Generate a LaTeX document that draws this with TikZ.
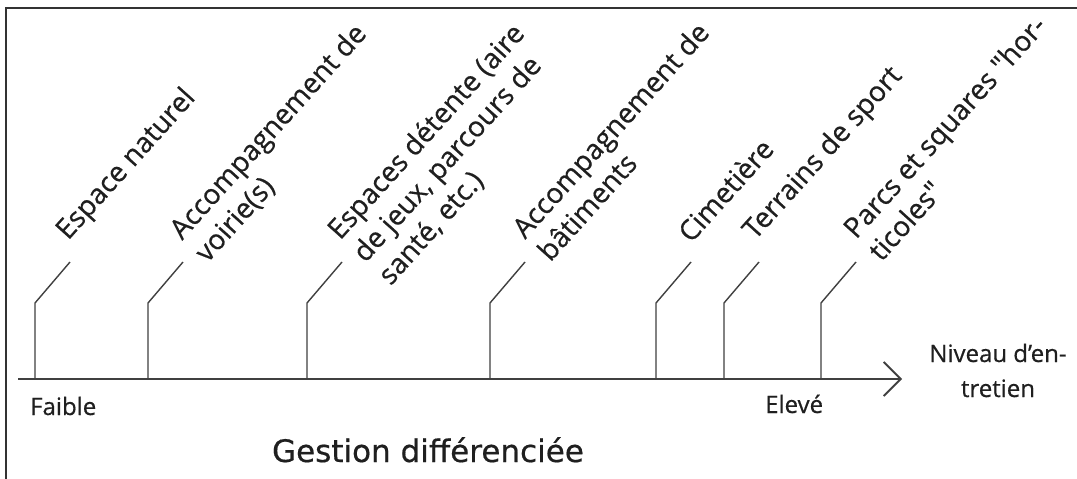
\documentclass[tikz,border=0pt]{standalone}
\usepackage{fontspec}
\setmainfont{Open Sans}[FakeBold=0.6]
\newfontfamily\labfont{Open Sans}[AutoFakeBold=0.5]
\newfontfamily\titlefont{DejaVu Sans}[AutoFakeBold=0.5]
\usetikzlibrary{arrows.meta,calc}
\begin{document}
\begin{tikzpicture}[x=1pt,y=-1pt,
  lab/.style={rotate=48,anchor=base west,align=left,inner sep=0pt,
    font=\labfont\bfseries\fontsize{28}{34}\selectfont,text=black!88},
  small/.style={inner sep=0pt,font=\labfont\bfseries\fontsize{24}{35}\selectfont,text=black!88},
  tickline/.style={draw=black!75,line width=1.4pt},
  axisline/.style={draw=black!75,line width=1.8pt},
  frameline/.style={draw=black!80,line width=2.6pt}]
\useasboundingbox (0,0) rectangle (1077,479);
\fill[white] (0,0) rectangle (1077,479);
\draw[frameline] (6,479) -- (6,8) -- (1077,8);
\coordinate (a0) at (18,379);
\coordinate (tip) at (902,379);
\draw[axisline,-{Straight Barb[length=17pt,width=34pt]}] (a0) -- (tip);
\foreach \x [count=\i] in {35,148,307,490,656,724,821} {
  \coordinate (t\i) at (\x,379);
  \coordinate (k\i) at (\x,303);
  \coordinate (e\i) at (\x+35,262);
  \draw[tickline] (t\i) -- (k\i) -- (e\i);
}
% one line down, perpendicular to the rotated text
\coordinate (dl) at (25.3,22.7);
\node[lab] (l1) at ($(e1)+(-2,-21)$) {Espace naturel};
\node[lab] (l2) at ($(e2)+(-1,-21)+(dl)$) {Accompagnement de\\voirie(s)};
\node[lab] (l3) at ($(e3)+(-2,-21)+2*(dl)$) {Espaces détente (aire\\de jeux, parcours de\\santé, etc.)};
\node[lab] (l4) at ($(e4)+(0,-22)+(dl)$) {Accompagnement de\\bâtiments};
\node[lab] (l5) at ($(e5)+(0,-18)$) {Cimetière};
\node[lab] (l6) at ($(e6)+(-4,-21)$) {Terrains de sport};
\node[lab] (l7) at ($(e7)+(0,-22)+(dl)$) {Parcs et squares "hor-\\ticoles"};
\node[small,anchor=base west] (faible) at (30,415) {Faible};
\node[small,anchor=base west] (eleve) at (765,413) {Elevé};
\node[small,anchor=base,align=center] (niveau) at (998,397) {Niveau d’en-\\tretien};
\node[inner sep=0pt,anchor=base,text=black!88,font=\titlefont\bfseries\fontsize{31}{37}\selectfont] (title) at (428,462) {Gestion différenciée};
\end{tikzpicture}
\end{document}
